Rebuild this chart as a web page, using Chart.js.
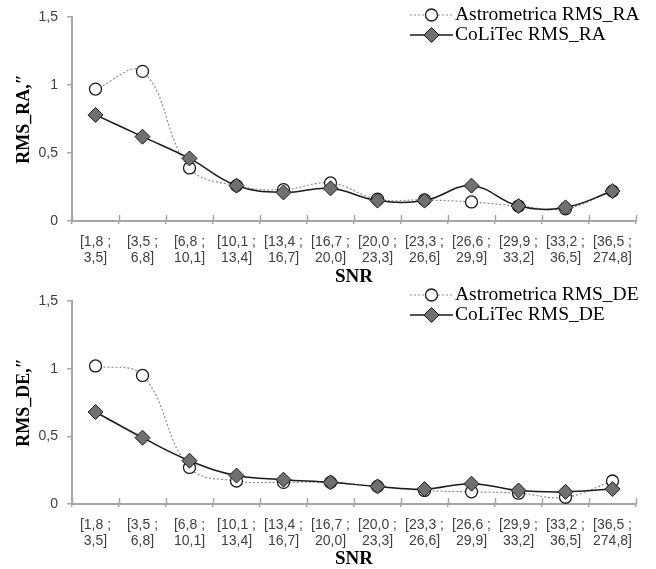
<!DOCTYPE html>
<html><head><meta charset="utf-8">
<script src="https://cdn.jsdelivr.net/npm/chart.js@4.4.0/dist/chart.umd.min.js"></script>
<style>
html,body{margin:0;padding:0;background:#fff;}
#w1{position:absolute;left:0;top:0;width:656px;height:284px;}
#w2{position:absolute;left:0;top:284px;width:656px;height:285px;}
</style></head><body>
<div id="w1"><canvas id="c1"></canvas></div>
<div id="w2"><canvas id="c2"></canvas></div>
<script>
const snrLabels = [['[1,8 ;','3,5]'],['[3,5 ;','6,8]'],['[6,8 ;','10,1]'],['[10,1 ;','13,4]'],['[13,4 ;','16,7]'],['[16,7 ;','20,0]'],['[20,0 ;','23,3]'],['[23,3 ;','26,6]'],['[26,6 ;','29,9]'],['[29,9 ;','33,2]'],['[33,2 ;','36,5]'],['[36,5 ;','274,8]']];
const astroRA   = [0.97, 1.10, 0.39, 0.26, 0.23, 0.28, 0.16, 0.155, 0.14, 0.11, 0.09, 0.22];
const colitecRA = [0.78, 0.62, 0.46, 0.26, 0.21, 0.24, 0.15, 0.15, 0.26, 0.11, 0.10, 0.22];
const astroDE   = [1.02, 0.95, 0.27, 0.17, 0.16, 0.16, 0.13, 0.10, 0.09, 0.08, 0.05, 0.17];
const colitecDE = [0.68, 0.49, 0.32, 0.21, 0.18, 0.16, 0.13, 0.11, 0.15, 0.10, 0.09, 0.11];
const yTickValues = [0, 0.5, 1, 1.5];
const seriesNames = ['Astrometrica RMS_RA','CoLiTec RMS_RA','Astrometrica RMS_DE','CoLiTec RMS_DE'];
const yTitles = ['RMS_RA,\u2033','RMS_DE,\u2033'];
const xTitle = 'SNR';

const AXIS = '#a6a6a6';
const TICKFONT = {family:'"Liberation Sans",Arial,sans-serif', size:14, lineHeight:'16px'};
const SERIF = '"Liberation Serif","Times New Roman",Times,serif';

const legendPlugin = {
  id:'customLegend',
  afterDraw(chart, args, opts){
    const ctx = chart.ctx;
    chart.data.datasets.forEach((ds,i)=>{
      const y = opts.y + i*opts.gap;
      ctx.save();
      ctx.strokeStyle = ds.borderColor; ctx.lineWidth = ds.borderWidth;
      ctx.setLineDash(ds.borderDash || []);
      ctx.beginPath(); ctx.moveTo(opts.x, y); ctx.lineTo(opts.x+opts.len, y); ctx.stroke();
      ctx.setLineDash([]);
      ctx.fillStyle = ds.pointBackgroundColor; ctx.strokeStyle = ds.pointBorderColor; ctx.lineWidth = ds.pointBorderWidth;
      Chart.helpers.drawPoint(ctx, {pointStyle: ds.pointStyle, radius: ds.pointRadius, borderWidth: ds.pointBorderWidth, rotation:0}, opts.x+opts.len/2, y);
      ctx.fillStyle = '#000';
      ctx.font = '19.5px ' + SERIF;
      ctx.textBaseline = 'middle'; ctx.textAlign = 'left';
      ctx.fillText(ds.label, opts.x+opts.len+2, y);
      ctx.restore();
    });
  }
};
const innerTicks = {
  id:'innerTicks',
  afterDraw(chart){
    const xs = chart.scales.x, ctx = chart.ctx;
    ctx.save(); ctx.strokeStyle = AXIS; ctx.lineWidth = 1.5;
    for (let i=0;i<=xs.ticks.length;i++){
      const x = Math.round(xs.getPixelForValue(i-0.5))+0.5;
      ctx.beginPath(); ctx.moveTo(x, xs.top-6); ctx.lineTo(x, xs.top); ctx.stroke();
    }
    ctx.restore();
  }
};

function makeChart(id, astro, colitec, nameA, nameC, yTitle, cfg){
  return new Chart(document.getElementById(id), {
    type:'line',
    data:{
      labels: snrLabels,
      datasets:[
        {label:nameA, data:astro, borderColor:'#8c8c8c', borderWidth:1.2, borderDash:[2,2],
         pointStyle:'circle', pointRadius:6, pointBackgroundColor:'#fff', pointBorderColor:'#1a1a1a', pointBorderWidth:1.3,
         tension:0.4, order:2},
        {label:nameC, data:colitec, borderColor:'#1a1a1a', borderWidth:1.5,
         pointStyle:'rectRot', pointRadius:7.5, pointBackgroundColor:'#707070', pointBorderColor:'#1a1a1a', pointBorderWidth:1,
         tension:0.4, order:1}
      ]
    },
    options:{
      responsive:true, maintainAspectRatio:false, animation:false,
      layout:{padding:{top:cfg.top, right:20, left:0, bottom:0}},
      plugins:{legend:{display:false}, tooltip:{enabled:false},
        customLegend:{x:410, y:cfg.legY, gap:20, len:43}},
      scales:{
        x:{type:'category', offset:true,
          grid:{offset:true, drawOnChartArea:false, drawTicks:true, tickLength:3, color:AXIS, lineWidth:1.5},
          border:{color:AXIS, width:2},
          ticks:{font:TICKFONT, color:'#404040', padding:10, maxRotation:0, autoSkip:false},
          title:{display:true, text:xTitle, color:'#000', font:{family:SERIF, size:19, weight:'bold', lineHeight:0.7}, padding:{top:0,bottom:cfg.snrPad}},
          afterFit(s){ s.height = cfg.xh; }
        },
        y:{min:0, max:1.5,
          afterBuildTicks(s){ s.ticks = yTickValues.map(v=>({value:v})); },
          grid:{drawOnChartArea:false, drawTicks:true, tickLength:5, color:AXIS, lineWidth:1.5},
          border:{color:AXIS, width:2},
          ticks:{font:TICKFONT, color:'#404040', padding:9, callback:v=>String(v).replace('.',',')},
          title:{display:true, text:yTitle, color:'#000', font:{family:SERIF, size:18, weight:'bold', lineHeight:1.2}, padding:{top:14,bottom:0}},
          afterFit(s){ s.width = 72; }
        }
      }
    },
    plugins:[legendPlugin, innerTicks]
  });
}
makeChart('c1', astroRA, colitecRA, seriesNames[0], seriesNames[1], yTitles[0], {top:16, xh:63, legY:15, snrPad:0});
makeChart('c2', astroDE, colitecDE, seriesNames[2], seriesNames[3], yTitles[1], {top:15, xh:65, legY:11, snrPad:3.5});
</script>
</body></html>
